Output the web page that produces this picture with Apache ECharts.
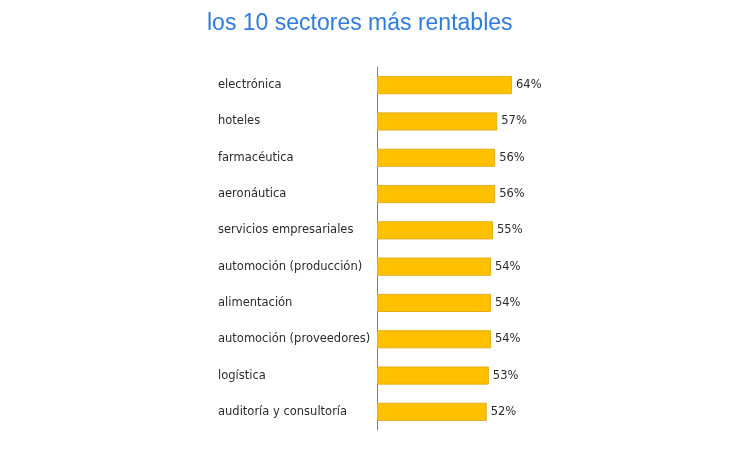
<!DOCTYPE html>
<html>
<head>
<meta charset="utf-8">
<script src="https://cdn.jsdelivr.net/npm/echarts@6/dist/echarts.min.js"></script>
<style>
html,body{margin:0;padding:0;background:#fff;}
#sectores{width:750px;height:450px;}
</style>
</head>
<body>
<div id="sectores"></div>
<script>
// sectores (de arriba a abajo)
var sectores = ['electrónica','hoteles','farmacéutica','aeronáutica','servicios empresariales',
    'automoción (producción)','alimentación','automoción (proveedores)','logística','auditoría y consultoría'];
var rentabilidad = [64, 57, 56, 56, 55, 54, 54, 54, 53, 52];

var opcion_sectores = {
    title: {
        text: 'los 10 sectores más rentables',
        left: 207,
        top: 12,
        padding: 0,
        textStyle: {
            color: '#2f7be0',
            fontSize: 23,
            fontWeight: 'normal',
            fontFamily: 'Liberation Sans'
        }
    },
    grid: {
        left: 377,
        top: 67,
        width: 211,
        height: 363
    },
    xAxis: {
        type: 'value',
        min: 0,
        max: 100,
        show: false
    },
    yAxis: {
        type: 'category',
        inverse: true,
        data: sectores,
        axisLine: {
            lineStyle: {
                color: '#808080',
                width: 1
            }
        },
        axisTick: {show: false},
        axisLabel: {
            align: 'left',
            margin: 159,
            color: '#2b2b2b',
            fontSize: 11.5,
            fontFamily: 'DejaVu Sans'
        }
    },
    series: [
        {
            type: 'bar',
            data: rentabilidad,
            barWidth: '50%',
            itemStyle: {
                color: '#ffc000',
                borderColor: '#e3ae1a',
                borderWidth: 1
            },
            label: {
                show: true,
                position: 'right',
                distance: 4,
                formatter: '{c}%',
                color: '#2b2b2b',
                fontSize: 11.5,
                fontFamily: 'DejaVu Sans'
            }
        }
    ]
};

var chart_sectores = echarts.init(document.getElementById('sectores'));
chart_sectores.setOption(opcion_sectores);
</script>
</body>
</html>
